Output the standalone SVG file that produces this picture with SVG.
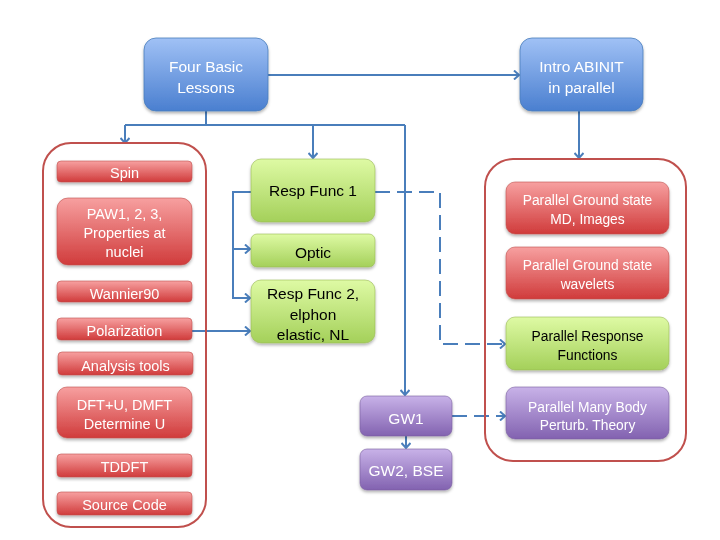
<svg xmlns="http://www.w3.org/2000/svg" width="720" height="540" viewBox="0 0 720 540">
<style>
text{font-family:"Liberation Sans",Arial,sans-serif;text-anchor:middle}
.w{fill:#ffffff}
.k{fill:#000000}
.big{font-size:15.5px}
.sm{font-size:14.5px}
.rs{font-size:13.8px}
.blue{fill:url(#gBlue);stroke:#4a7ebb;stroke-width:0.8}
.red{fill:url(#gRed);stroke:#c0504d;stroke-width:0.6}
.green{fill:url(#gGreen);stroke:#98b954;stroke-width:0.6}
.purple{fill:url(#gPurple);stroke:#7a5fa0;stroke-width:0.6}
.cont{fill:none;stroke:#c0504d;stroke-width:2}
.c{fill:none;stroke:#4a7ebb;stroke-width:2;marker-end:url(#arr)}
.cn{fill:none;stroke:#4a7ebb;stroke-width:2}
.d{stroke-dasharray:15,7}
</style>
<defs>
<linearGradient id="gBlue" x1="0" y1="0" x2="0" y2="1"><stop offset="0" stop-color="#a0c1f5"/><stop offset="1" stop-color="#4a7fd0"/></linearGradient>
<linearGradient id="gRed" x1="0" y1="0" x2="0" y2="1"><stop offset="0" stop-color="#f7a0a0"/><stop offset="1" stop-color="#d03b3b"/></linearGradient>
<linearGradient id="gGreen" x1="0" y1="0" x2="0" y2="1"><stop offset="0" stop-color="#defaa4"/><stop offset="1" stop-color="#a4d05a"/></linearGradient>
<linearGradient id="gPurple" x1="0" y1="0" x2="0" y2="1"><stop offset="0" stop-color="#c8b2e8"/><stop offset="1" stop-color="#8262b0"/></linearGradient>
<filter id="sh" x="-10%" y="-10%" width="120%" height="130%"><feDropShadow dx="0" dy="2" stdDeviation="1.5" flood-color="#000" flood-opacity="0.3"/></filter>
<marker id="arr" viewBox="0 0 10 10" refX="9" refY="5" markerWidth="10" markerHeight="10" markerUnits="userSpaceOnUse" orient="auto">
<path d="M4,0.5 L9,5 L4,9.5" fill="none" stroke="#4a7ebb" stroke-width="2"/>
</marker>
</defs>
<rect width="720" height="540" fill="#ffffff"/>

<g id="connectors">
<path class="c" d="M268,75 H519"/>
<path class="cn" d="M206,111 V125 M125,125 H405"/>
<path class="c" d="M125,125 V143"/>
<path class="c" d="M313,125 V158"/>
<path class="c" d="M405,125 V395"/>
<path class="c" d="M579,111 V158"/>
<path class="c" d="M251,192 H233 V298 H250"/>
<path class="c" d="M233,249 H250"/>
<path class="c" d="M192,331 H250"/>
<path class="c d" d="M375,192 H440 V344 H505"/>
<path class="c d" d="M452,416 H505"/>
<path class="c" d="M406,436 V448"/>
</g>

<g id="left-group"><rect class="cont" x="43" y="143" width="163" height="384" rx="28"/></g>
<g id="right-group"><rect class="cont" x="485" y="159" width="201" height="302" rx="28"/></g>

<g id="four-basic" filter="url(#sh)"><rect class="blue" x="144" y="38" width="124" height="73" rx="12"/>
<text class="w big" x="206" y="72">Four Basic</text><text class="w big" x="206" y="93">Lessons</text></g>
<g id="intro-abinit" filter="url(#sh)"><rect class="blue" x="520" y="38" width="123" height="73" rx="12"/>
<text class="w big" x="581.5" y="72">Intro ABINIT</text><text class="w big" x="581.5" y="93">in parallel</text></g>

<g id="spin" filter="url(#sh)"><rect class="red" x="57" y="161" width="135" height="21" rx="4"/><text class="w sm" x="124.5" y="178">Spin</text></g>
<g id="paw" filter="url(#sh)"><rect class="red" x="57" y="198" width="135" height="67" rx="11"/>
<text class="w sm" x="124.5" y="219">PAW1, 2, 3,</text><text class="w sm" x="124.5" y="238">Properties at</text><text class="w sm" x="124.5" y="257">nuclei</text></g>
<g id="wannier" filter="url(#sh)"><rect class="red" x="57" y="281" width="135" height="21" rx="4"/><text class="w sm" x="124.5" y="299">Wannier90</text></g>
<g id="polarization" filter="url(#sh)"><rect class="red" x="57" y="318" width="135" height="22" rx="4"/><text class="w sm" x="124.5" y="336">Polarization</text></g>
<g id="analysis" filter="url(#sh)"><rect class="red" x="58" y="352" width="135" height="23" rx="4"/><text class="w sm" x="125.5" y="370.5">Analysis tools</text></g>
<g id="dftu" filter="url(#sh)"><rect class="red" x="57" y="387" width="135" height="51" rx="10"/>
<text class="w sm" x="124.5" y="410">DFT+U, DMFT</text><text class="w sm" x="124.5" y="429">Determine U</text></g>
<g id="tddft" filter="url(#sh)"><rect class="red" x="57" y="454" width="135" height="23" rx="4"/><text class="w sm" x="124.5" y="472">TDDFT</text></g>
<g id="source-code" filter="url(#sh)"><rect class="red" x="57" y="492" width="135" height="23" rx="4"/><text class="w sm" x="124.5" y="510">Source Code</text></g>

<g id="resp-func-1" filter="url(#sh)"><rect class="green" x="251" y="159" width="124" height="63" rx="10"/><text class="k big" x="313" y="196">Resp Func 1</text></g>
<g id="optic" filter="url(#sh)"><rect class="green" x="251" y="234" width="124" height="33" rx="6"/><text class="k big" x="313" y="258">Optic</text></g>
<g id="resp-func-2" filter="url(#sh)"><rect class="green" x="251" y="280" width="124" height="63" rx="10"/>
<text class="k big" x="313" y="299">Resp Func 2,</text><text class="k big" x="313" y="319.5">elphon</text><text class="k big" x="313" y="340">elastic, NL</text></g>

<g id="gw1" filter="url(#sh)"><rect class="purple" x="360" y="396" width="92" height="40" rx="7"/><text class="w big" x="406" y="423.5">GW1</text></g>
<g id="gw2-bse" filter="url(#sh)"><rect class="purple" x="360" y="449" width="92" height="41" rx="7"/><text class="w big" x="406" y="476">GW2, BSE</text></g>

<g id="par-gs-md" filter="url(#sh)"><rect class="red" x="506" y="182" width="163" height="52" rx="9"/>
<text class="w rs" x="587.5" y="205">Parallel Ground state</text><text class="w rs" x="587.5" y="224">MD, Images</text></g>
<g id="par-gs-wavelets" filter="url(#sh)"><rect class="red" x="506" y="247" width="163" height="52" rx="9"/>
<text class="w rs" x="587.5" y="270">Parallel Ground state</text><text class="w rs" x="587.5" y="288.5">wavelets</text></g>
<g id="par-resp" filter="url(#sh)"><rect class="green" x="506" y="317" width="163" height="53" rx="9"/>
<text class="k rs" x="587.5" y="341">Parallel Response</text><text class="k rs" x="587.5" y="360">Functions</text></g>
<g id="par-mbpt" filter="url(#sh)"><rect class="purple" x="506" y="387" width="163" height="52" rx="9"/>
<text class="w rs" x="587.5" y="411.5">Parallel Many Body</text><text class="w rs" x="587.5" y="430">Perturb. Theory</text></g>
</svg>
